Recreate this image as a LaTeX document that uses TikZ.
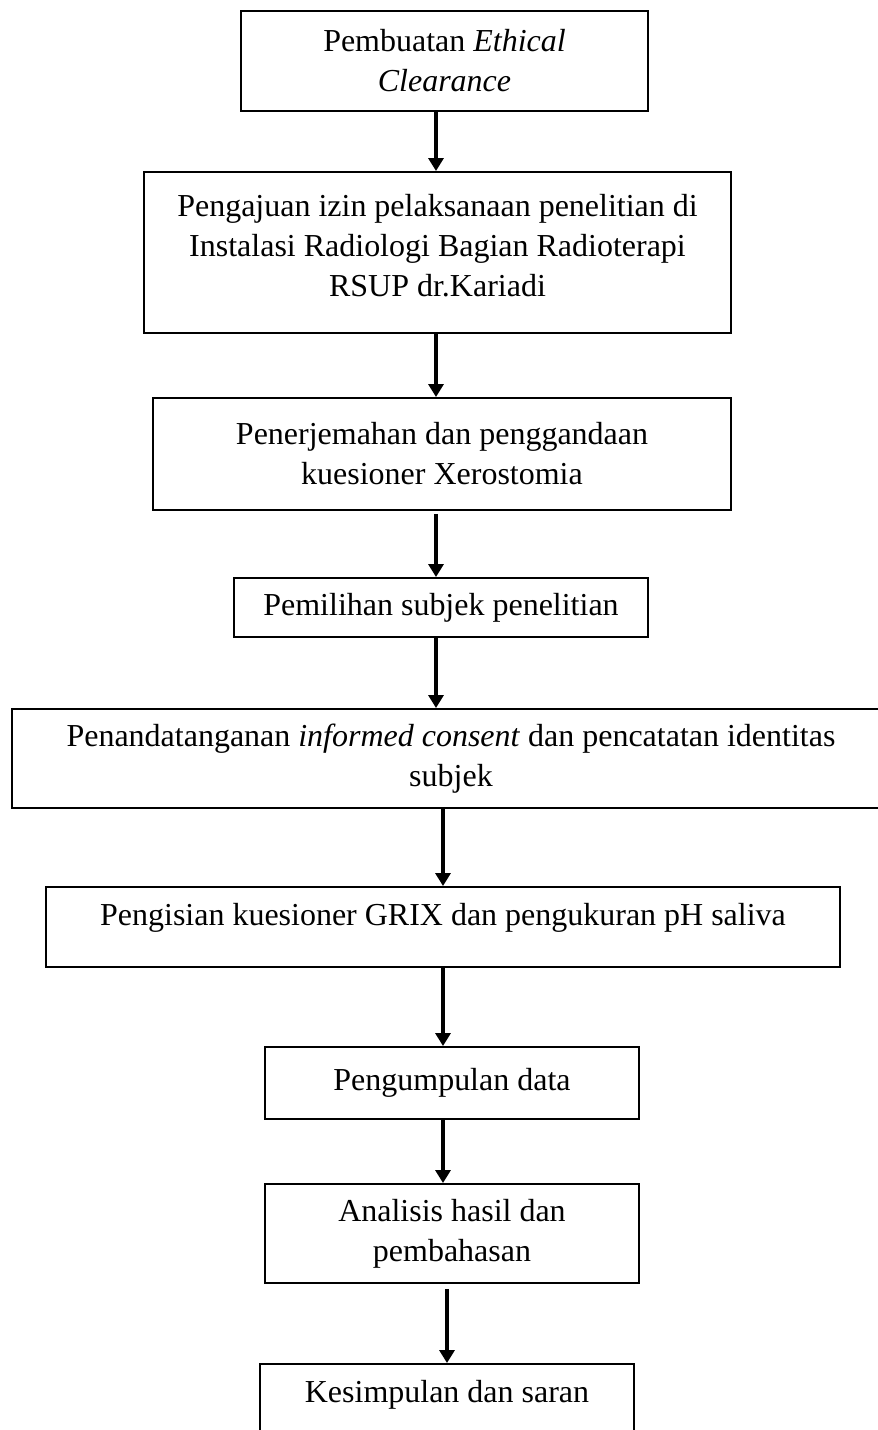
\documentclass[tikz,border=0pt]{standalone}
\usepackage{fontspec}
\setmainfont{Liberation Serif}
\usetikzlibrary{arrows.meta}
\newcommand{\ganjal}[1]{\rule[-#1]{0pt}{#1}}

\begin{document}
\begin{tikzpicture}[x=1cm,y=1cm,
  kotak/.style={draw=black,line width=1.1pt,fill=white,inner sep=0pt,align=center,font=\fontsize{18.2}{22.8}\selectfont},
  panah/.style={-{Triangle[length=0.26cm,width=0.3cm]},line width=1.9pt}]
\useasboundingbox (0,0) rectangle (17.56,-28.6);
% jalur panah
\coordinate (jalurA) at (8.72,0);
\coordinate (jalurB) at (8.86,0);
\coordinate (jalurC) at (8.94,0);
% kotak-kotak tahapan
\node[kotak,minimum width=8.14cm,minimum height=2.00cm] (etik) at (8.89,-1.22) {Pembuatan \textit{Ethical}\\\textit{Clearance}};
\node[kotak,minimum width=11.74cm,minimum height=3.22cm] (izin) at (8.75,-5.05) {Pengajuan izin pelaksanaan penelitian di\\Instalasi Radiologi Bagian Radioterapi\\RSUP dr.Kariadi\ganjal{0.28cm}};
\node[kotak,minimum width=11.56cm,minimum height=2.24cm] (terjemah) at (8.84,-9.08) {Penerjemahan dan penggandaan\\kuesioner Xerostomia};
\node[kotak,minimum width=8.28cm,minimum height=1.18cm] (pilih) at (8.82,-12.15) {Pemilihan subjek penelitian};
\node[kotak,minimum width=17.56cm,minimum height=1.98cm] (consent) at (9.02,-15.17) {Penandatanganan \textit{informed consent} dan pencatatan identitas\\subjek};
\node[kotak,minimum width=15.88cm,minimum height=1.60cm] (isi) at (8.86,-18.54) {Pengisian kuesioner GRIX dan pengukuran pH saliva\ganjal{0.5cm}};
\node[kotak,minimum width=7.48cm,minimum height=1.44cm] (kumpul) at (9.04,-21.66) {Pengumpulan data};
\node[kotak,minimum width=7.48cm,minimum height=1.98cm] (analisis) at (9.04,-24.67) {Analisis hasil dan\\pembahasan};
\node[kotak,minimum width=7.48cm,minimum height=1.60cm] (simpul) at (8.94,-28.08) {Kesimpulan dan saran\ganjal{0.5cm}};
% panah
\draw[panah] (etik.south -| jalurA) -- (izin.north -| jalurA);
\draw[panah] (izin.south -| jalurA) -- (terjemah.north -| jalurA);
\draw[panah,shorten <=0.06cm] (terjemah.south -| jalurA) -- (pilih.north -| jalurA);
\draw[panah] (pilih.south -| jalurA) -- (consent.north -| jalurA);
\draw[panah] (consent.south -| jalurB) -- (isi.north -| jalurB);
\draw[panah] (isi.south -| jalurB) -- (kumpul.north -| jalurB);
\draw[panah] (kumpul.south -| jalurB) -- (analisis.north -| jalurB);
\draw[panah,shorten <=0.1cm] (analisis.south -| jalurC) -- (simpul.north -| jalurC);
\end{tikzpicture}
\end{document}
